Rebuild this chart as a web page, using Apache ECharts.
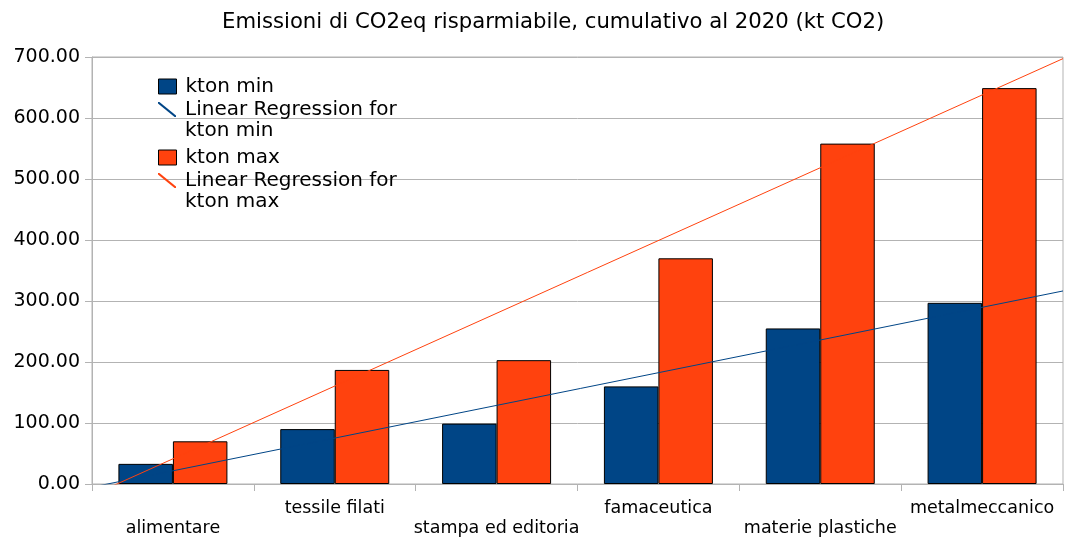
<!DOCTYPE html>
<html>
<head>
<meta charset="utf-8">
<script src="https://cdn.jsdelivr.net/npm/echarts@6/dist/echarts.min.js"></script>
<style>
html,body{margin:0;padding:0;background:#fff;}
#chart{width:1065px;height:537px;}
</style>
</head>
<body>
<div id="chart"></div>
<script>
const categories = ['alimentare', 'tessile filati', 'stampa ed editoria', 'famaceutica', 'materie plastiche', 'metalmeccanico'];
const ktonMin = [33, 90, 99, 160, 255, 297];
const ktonMax = [70, 187, 203, 370, 558, 649];
const titleText = 'Emissioni di CO2eq risparmiabile, cumulativo al 2020 (kt CO2)';
const seriesNames = ['kton min', 'Linear Regression for kton min', 'kton max', 'Linear Regression for kton max'];

const BLUE = '#004586';
const ORANGE = '#ff420e';
const FONT = 'DejaVu Sans';

// least-squares trend line over category positions 1..n, evaluated at the plot edges
function trendEnds(vals) {
  const n = vals.length;
  let sx = 0, sy = 0, sxx = 0, sxy = 0;
  vals.forEach((v, i) => { const x = i + 1; sx += x; sy += v; sxx += x * x; sxy += x * v; });
  const b = (n * sxy - sx * sy) / (n * sxx - sx * sx);
  const a = (sy - b * sx) / n;
  return [[0.5, a + b * 0.5], [n + 0.5, a + b * (n + 0.5)]];
}

const chart = echarts.init(document.getElementById('chart'), null, {renderer: 'canvas'});
const lineIcon = 'path://M0,0 L1.4,0 L18,13.6 L18,15 L16.6,15 L0,1.4 Z';

function mkLegend(name, top, isLine, color) {
  return {
    show: true,
    left: 158,
    top: top,
    padding: 0,
    orient: 'vertical',
    itemWidth: 18,
    itemHeight: 15,
    selectedMode: false,
    formatter: function (n) {
      return n.indexOf('Linear Regression for ') === 0
        ? '\n' + n.replace('Linear Regression for ', 'Linear Regression for\n')
        : n;
    },
    textStyle: {fontFamily: FONT, fontSize: 20, color: '#000', lineHeight: 21, padding: [0, 0, 0, 4]},
    data: [isLine
      ? {name: name, icon: lineIcon, itemStyle: {color: color, borderWidth: 0}}
      : {name: name, icon: 'rect', itemStyle: {color: color, borderColor: '#000', borderWidth: 1}}]
  };
}

const option = {
  backgroundColor: '#fff',
  animation: false,
  title: {
    text: titleText,
    left: 222,
    top: 12,
    padding: 0,
    textStyle: {fontFamily: FONT, fontSize: 21.2, fontWeight: 'normal', color: '#000'}
  },
  legend: [
    mkLegend(seriesNames[0], 76, false, BLUE),
    mkLegend(seriesNames[1], 78, true, BLUE),
    mkLegend(seriesNames[2], 147, false, ORANGE),
    mkLegend(seriesNames[3], 149, true, ORANGE)
  ],
  grid: {
    left: 92, right: 2, top: 57, bottom: 53,
    containLabel: false,
    outerBoundsMode: 'none',
    show: true, borderColor: '#b3b3b3', borderWidth: 1, backgroundColor: 'transparent'
  },
  xAxis: [{
    type: 'category',
    data: categories,
    boundaryGap: true,
    axisLine: {lineStyle: {color: '#b3b3b3', width: 1}},
    axisTick: {show: true, length: 7, lineStyle: {color: '#b3b3b3'}},
    axisLabel: {
      interval: 0,
      margin: 14,
      fontFamily: FONT, fontSize: 17.5, color: '#000', lineHeight: 20,
      formatter: function (v, i) { return i % 2 === 0 ? '\n' + v : v; }
    },
    splitLine: {show: false}
  }, {
    type: 'value',
    min: 0.5,
    max: categories.length + 0.5,
    show: false
  }],
  yAxis: {
    type: 'value',
    min: 0, max: 700, interval: 100,
    axisLine: {show: true, lineStyle: {color: '#b3b3b3'}},
    axisTick: {show: true, length: 7, lineStyle: {color: '#b3b3b3'}},
    axisLabel: {
      margin: 12,
      fontFamily: FONT, fontSize: 19, color: '#000',
      formatter: function (v) { return v.toFixed(2); }
    },
    splitLine: {show: true, lineStyle: {color: '#b3b3b3', width: 1}}
  },
  series: [{
    name: seriesNames[0], type: 'bar', data: ktonMin, barWidth: 54.5, barGap: '0%',
    itemStyle: {color: BLUE, borderColor: '#000', borderWidth: 1}
  }, {
    name: seriesNames[2], type: 'bar', data: ktonMax, barWidth: 54.5, barGap: '0%',
    itemStyle: {color: ORANGE, borderColor: '#000', borderWidth: 1}
  }, {
    name: seriesNames[1], type: 'line', xAxisIndex: 1, data: trendEnds(ktonMin),
    symbol: 'none', clip: true, lineStyle: {color: BLUE, width: 1}, itemStyle: {color: BLUE}, z: 5
  }, {
    name: seriesNames[3], type: 'line', xAxisIndex: 1, data: trendEnds(ktonMax),
    symbol: 'none', clip: true, lineStyle: {color: ORANGE, width: 1}, itemStyle: {color: ORANGE}, z: 5
  }]
};
chart.setOption(option);
</script>
</body>
</html>
